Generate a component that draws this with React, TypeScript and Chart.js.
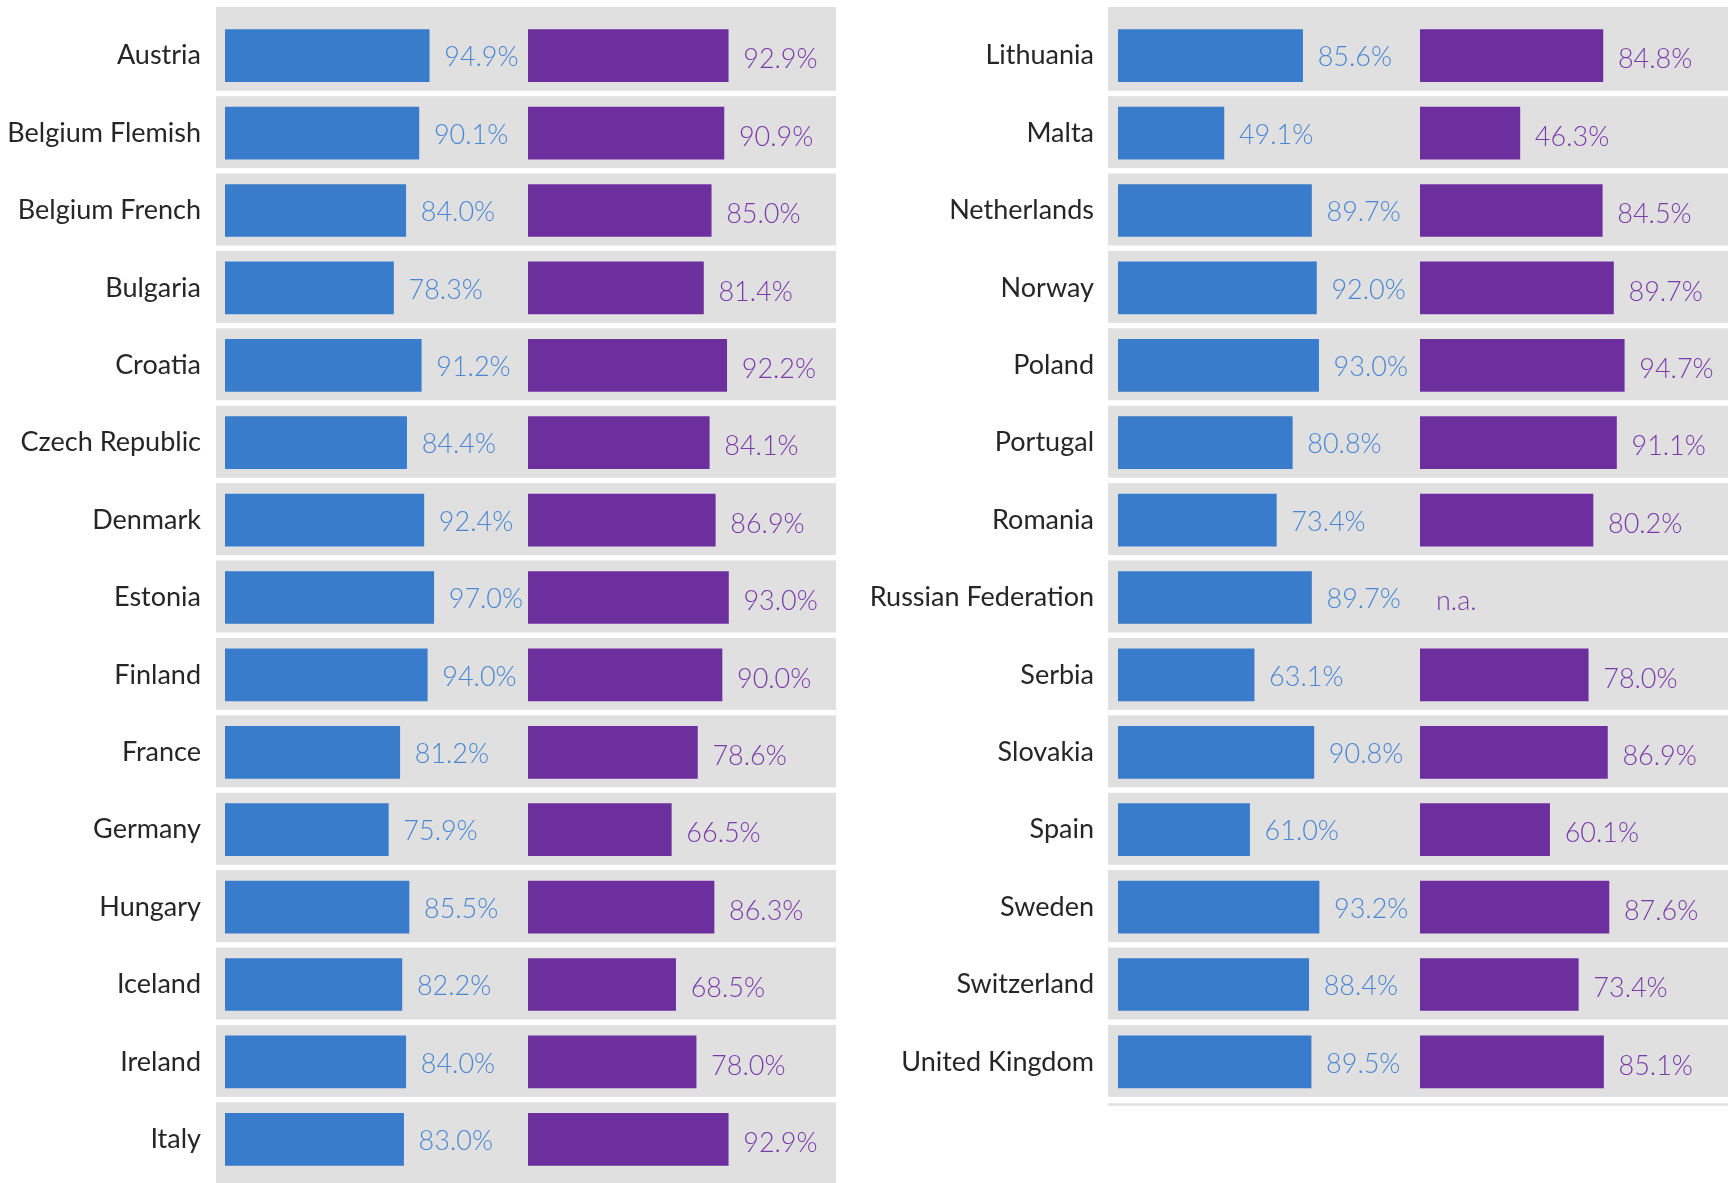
import React, { useEffect, useRef } from 'react';
import { Chart, registerables } from 'chart.js';

Chart.register(...registerables);

const leftCountries = [
  'Austria', 'Belgium Flemish', 'Belgium French', 'Bulgaria', 'Croatia', 'Czech Republic', 'Denmark',
  'Estonia', 'Finland', 'France', 'Germany', 'Hungary', 'Iceland', 'Ireland', 'Italy',
];
const leftBlue = [94.9, 90.1, 84.0, 78.3, 91.2, 84.4, 92.4, 97.0, 94.0, 81.2, 75.9, 85.5, 82.2, 84.0, 83.0];
const leftPurple = [92.9, 90.9, 85.0, 81.4, 92.2, 84.1, 86.9, 93.0, 90.0, 78.6, 66.5, 86.3, 68.5, 78.0, 92.9];

const rightCountries = [
  'Lithuania', 'Malta', 'Netherlands', 'Norway', 'Poland', 'Portugal', 'Romania', 'Russian Federation',
  'Serbia', 'Slovakia', 'Spain', 'Sweden', 'Switzerland', 'United Kingdom', '',
];
const rightBlue: (number | null)[] = [85.6, 49.1, 89.7, 92.0, 93.0, 80.8, 73.4, 89.7, 63.1, 90.8, 61.0, 93.2, 88.4, 89.5, null];
const rightPurple: (number | null)[] = [84.8, 46.3, 84.5, 89.7, 94.7, 91.1, 80.2, null, 78.0, 86.9, 60.1, 87.6, 73.4, 85.1, null];

const BLUE = '#3a7ccc';
const PURPLE = '#6e2f9e';
const BLUE_TEXT = '#4a87d4';
const PURPLE_TEXT = '#7a3aaa';
const BAND = '#e0e0e0';
const LABEL = '#262626';
const FONT = 'Lato, "Noto Sans", sans-serif';

type PanelProps = {
  countries: string[];
  blue: (number | null)[];
  purple: (number | null)[];
  left: number;
  width: number;
  axisWidth: number;
  padRight: number;
  blueWeight: number;
  purpleWeight: number;
  blueMax: number;
  purpleMax: number;
  bandInset: number;
};

function Panel(p: PanelProps) {
  const ref = useRef<HTMLCanvasElement | null>(null);
  useEffect(() => {
    if (!ref.current) return;
    const bandPlugin = {
      id: 'bands',
      beforeDatasetsDraw(chart: any) {
        const { ctx, chartArea, scales } = chart;
        const y = scales.y;
        const n = p.countries.length;
        ctx.save();
        ctx.fillStyle = BAND;
        const x0 = chartArea.left - p.bandInset;
        const w = chartArea.right - x0;
        for (let i = 0; i < n; i++) {
          const c = y.getPixelForValue(i);
          if (p.countries[i] === '') {
            ctx.fillRect(x0, c - 36, w, 2.5);
            continue;
          }
          const top = i === 0 ? 7 : c - 37;
          const bottom = i === n - 1 ? chart.height : c + 35;
          ctx.fillRect(x0, top, w, bottom - top);
        }
        ctx.restore();
      },
    };
    const labelPlugin = {
      id: 'vlabels',
      afterDatasetsDraw(chart: any) {
        const { ctx } = chart;
        ctx.save();
        ctx.font = `300 27px ${FONT}`;
        ctx.textBaseline = 'middle';
        ctx.textAlign = 'left';
        chart.data.datasets.forEach((ds: any, di: number) => {
          const meta = chart.getDatasetMeta(di);
          const xs = chart.scales[ds.xAxisID];
          ctx.fillStyle = di === 0 ? BLUE_TEXT : PURPLE_TEXT;
          ds.data.forEach((v: number | null, i: number) => {
            if (p.countries[i] === '') return;
            const yc = chart.scales.y.getPixelForValue(i) + (di === 0 ? 2 : 4);
            if (v === null || v === undefined) {
              ctx.fillText('n.a.', xs.getPixelForValue(0) + 16, yc);
            } else {
              const bar = meta.data[i];
              ctx.fillText(v.toFixed(1) + '%', bar.x + 15, yc);
            }
          });
        });
        ctx.restore();
      },
    };
    const chart = new Chart(ref.current, {
      type: 'bar',
      data: {
        labels: p.countries,
        datasets: [
          {
            data: p.blue,
            xAxisID: 'xb',
            backgroundColor: BLUE,
            grouped: false,
            barThickness: 52,
            borderWidth: 0,
          } as any,
          {
            data: p.purple,
            xAxisID: 'xp',
            backgroundColor: PURPLE,
            grouped: false,
            barThickness: 52,
            borderWidth: 0,
          } as any,
        ],
      },
      options: {
        indexAxis: 'y',
        animation: false,
        responsive: false,
        maintainAspectRatio: false,
        layout: { padding: { top: 17, bottom: 5, left: 0, right: p.padRight } },
        plugins: { legend: { display: false }, tooltip: { enabled: false } },
        scales: {
          y: {
            position: 'left',
            grid: { display: false, drawTicks: false },
            border: { display: false },
            ticks: { padding: 24, color: LABEL, font: { family: FONT, size: 27, weight: 400 as any } },
            afterFit: (s: any) => {
              s.width = p.axisWidth;
              s.paddingTop = 0;
              s.paddingBottom = 0;
            },
          },
          xb: {
            type: 'linear',
            position: 'bottom',
            stack: 'x',
            stackWeight: p.blueWeight,
            min: 0,
            max: p.blueMax,
            display: false,
          },
          xp: {
            type: 'linear',
            position: 'bottom',
            stack: 'x',
            stackWeight: p.purpleWeight,
            min: 0,
            max: p.purpleMax,
            display: false,
          },
        } as any,
      },
      plugins: [bandPlugin, labelPlugin],
    });
    return () => chart.destroy();
  }, []);
  return (
    <canvas
      ref={ref}
      width={p.width}
      height={1183}
      style={{ position: 'absolute', left: p.left, top: 0, width: p.width, height: 1183 }}
    />
  );
}

export default function App() {
  return (
    <div style={{ position: 'absolute', left: 0, top: 0, width: 1731, height: 1183, background: '#ffffff' }}>
      <Panel
        countries={leftCountries}
        blue={leftBlue}
        purple={leftPurple}
        left={0}
        width={860}
        axisWidth={225}
        padRight={24}
        blueWeight={303}
        purpleWeight={308}
        blueMax={140.8}
        purpleMax={142.9}
        bandInset={9}
      />
      <Panel
        countries={rightCountries}
        blue={rightBlue}
        purple={rightPurple}
        left={860}
        width={871}
        axisWidth={258}
        padRight={3}
        blueWeight={302}
        purpleWeight={308}
        blueMax={140}
        purpleMax={142.8}
        bandInset={10}
      />
    </div>
  );
}
